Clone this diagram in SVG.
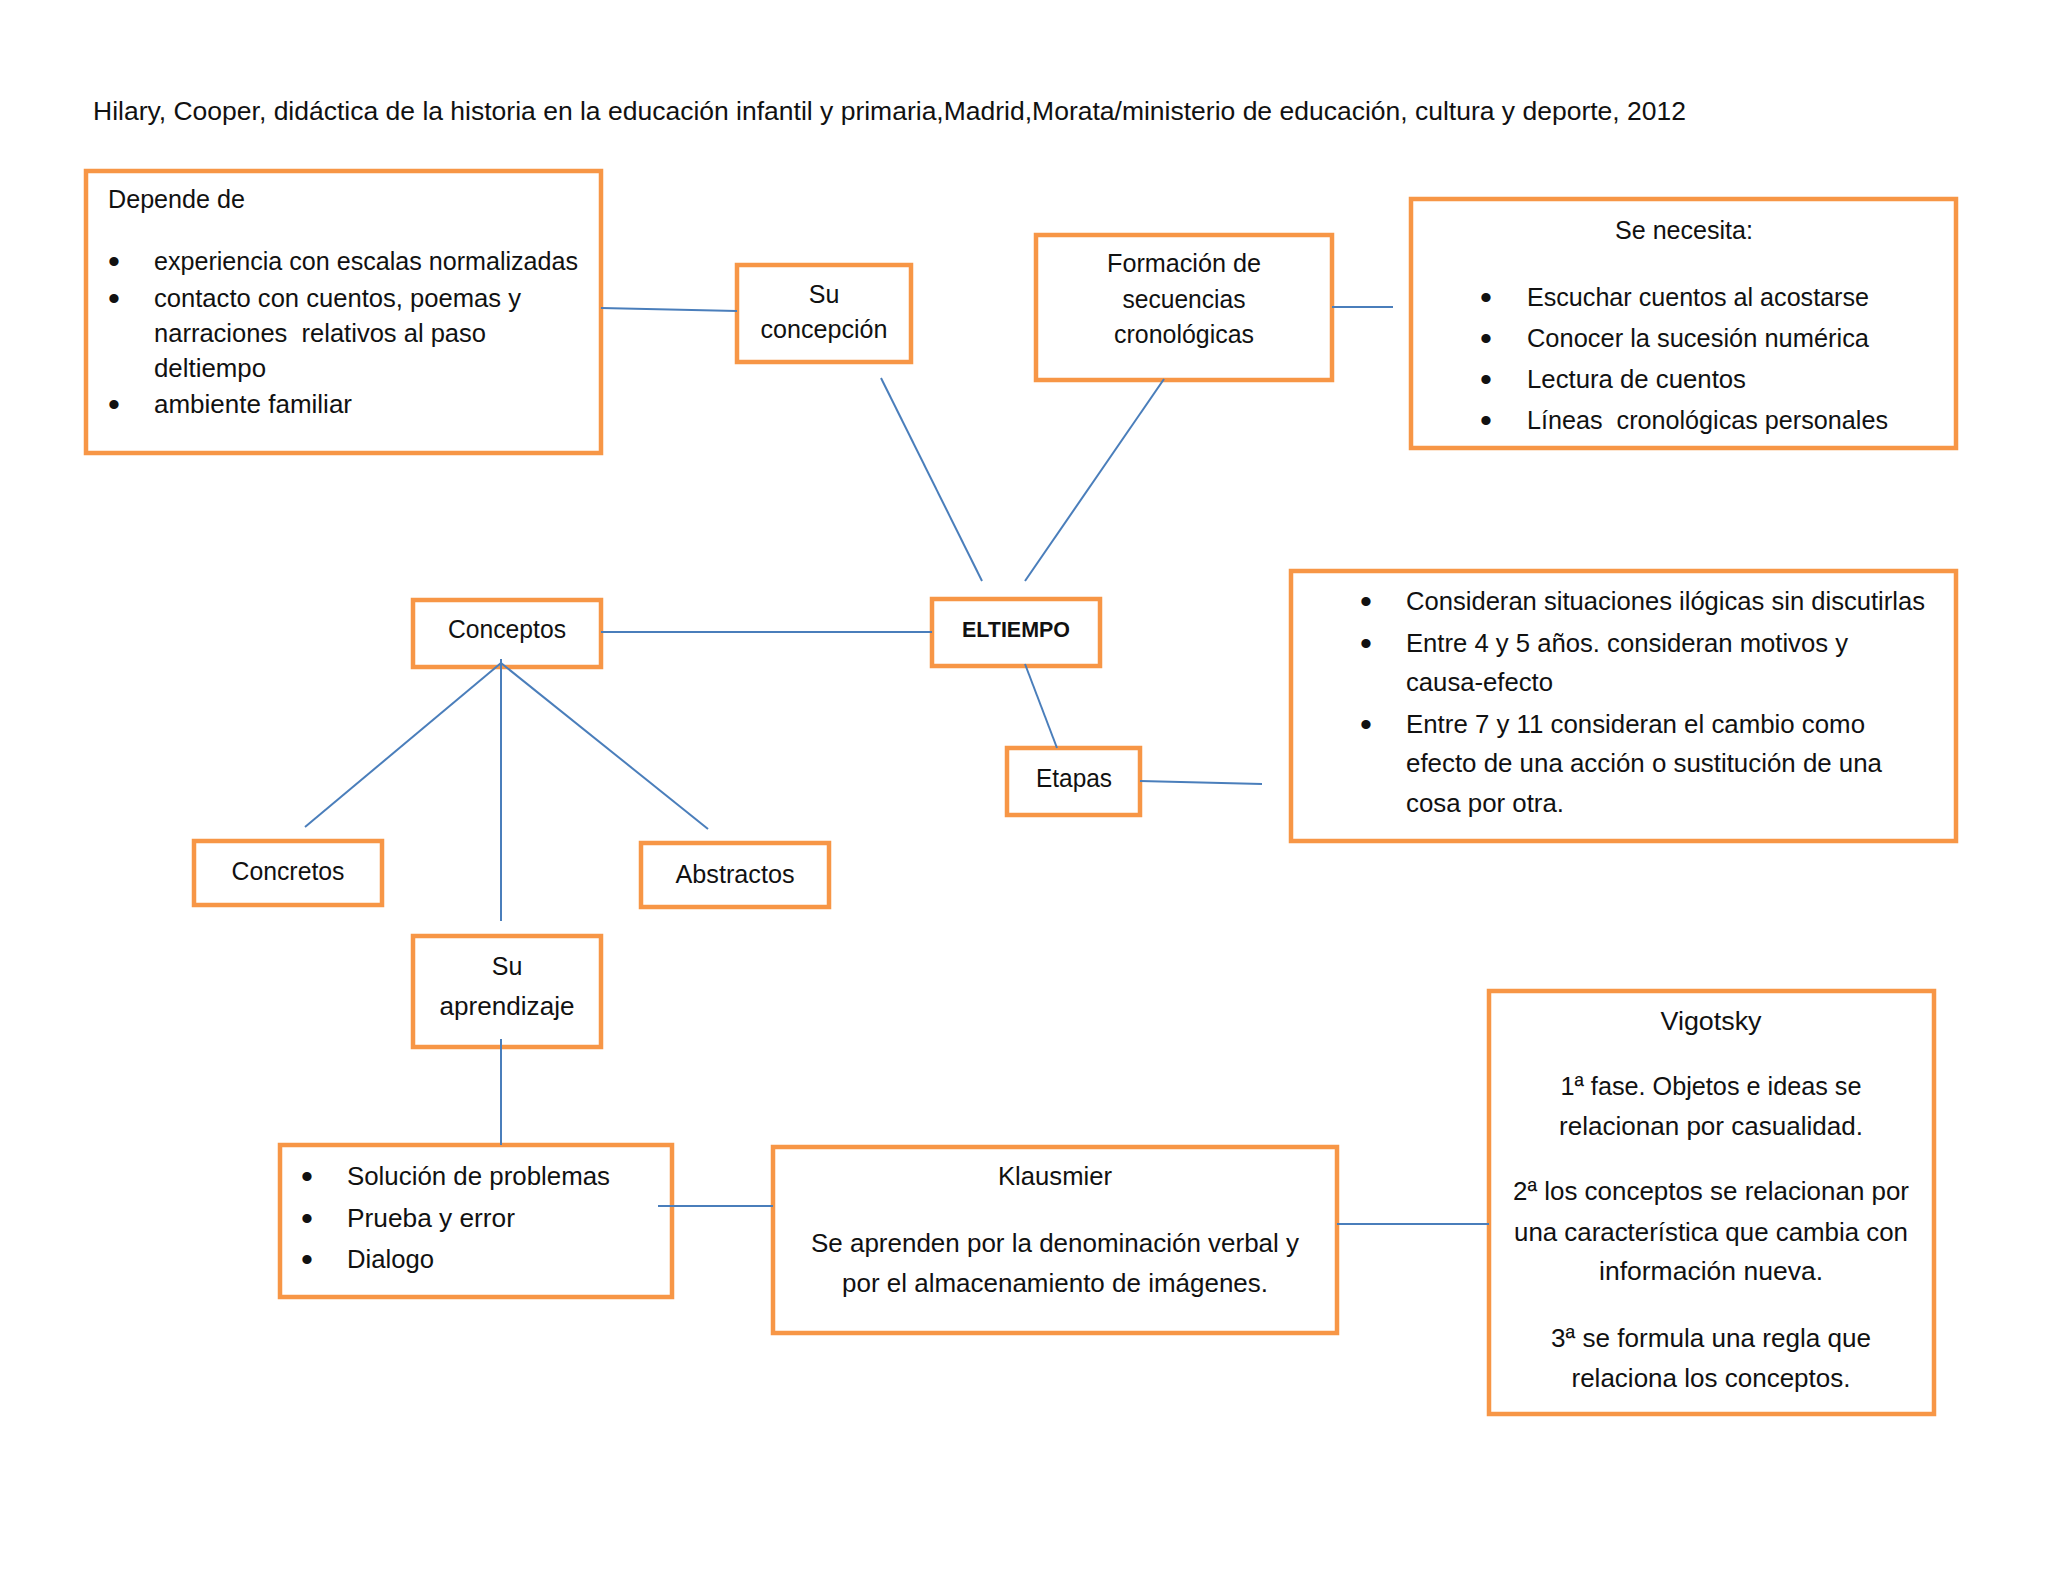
<svg xmlns="http://www.w3.org/2000/svg" width="2048" height="1582" viewBox="0 0 2048 1582">
<style>
.box{fill:#fff;stroke:#F79646;stroke-width:4.5}
.t{font-family:"Liberation Sans",Arial,sans-serif;font-size:25px;fill:#111}
.c{text-anchor:middle}
.b{font-weight:bold;font-size:22px}
.bu{font-family:"Liberation Sans",Arial,sans-serif;font-size:34px;fill:#111}
.edge{stroke:#4A7EBB;stroke-width:2;fill:none}
</style>
<rect width="2048" height="1582" fill="#fff"/>
<text class="t" x="93" y="120" textLength="1593" lengthAdjust="spacingAndGlyphs">Hilary, Cooper, didáctica de la historia en la educación infantil y primaria,Madrid,Morata/ministerio de educación, cultura y deporte, 2012</text>
<g id="depende">
<rect class="box" x="86" y="171" width="515" height="282"/>
<text class="t" x="108" y="208" textLength="137" lengthAdjust="spacingAndGlyphs">Depende de</text>
<text class="bu" x="108" y="273">•</text>
<text class="bu" x="108" y="310">•</text>
<text class="bu" x="108" y="416">•</text>
<text class="t" x="154" y="270" textLength="424" lengthAdjust="spacingAndGlyphs">experiencia con escalas normalizadas</text>
<text class="t" x="154" y="307" textLength="367" lengthAdjust="spacingAndGlyphs">contacto con cuentos, poemas y</text>
<text class="t" x="154" y="342" textLength="332" lengthAdjust="spacingAndGlyphs" xml:space="preserve">narraciones  relativos al paso</text>
<text class="t" x="154" y="377" textLength="112" lengthAdjust="spacingAndGlyphs">deltiempo</text>
<text class="t" x="154" y="413" textLength="198" lengthAdjust="spacingAndGlyphs">ambiente familiar</text>
</g>
<g id="su-concepcion">
<rect class="box" x="737" y="265" width="174" height="97"/>
<text class="t c" x="824" y="303">Su</text>
<text class="t c" x="824" y="338" textLength="127" lengthAdjust="spacingAndGlyphs">concepción</text>
</g>
<g id="formacion">
<rect class="box" x="1036" y="235" width="296" height="145"/>
<text class="t c" x="1184" y="272" textLength="154" lengthAdjust="spacingAndGlyphs">Formación de</text>
<text class="t c" x="1184" y="308" textLength="123" lengthAdjust="spacingAndGlyphs">secuencias</text>
<text class="t c" x="1184" y="343" textLength="140" lengthAdjust="spacingAndGlyphs">cronológicas</text>
</g>
<g id="se-necesita">
<rect class="box" x="1411" y="199" width="545" height="249"/>
<text class="t c" x="1684" y="239" textLength="138" lengthAdjust="spacingAndGlyphs">Se necesita:</text>
<text class="bu" x="1480" y="309">•</text>
<text class="bu" x="1480" y="350">•</text>
<text class="bu" x="1480" y="391">•</text>
<text class="bu" x="1480" y="432">•</text>
<text class="t" x="1527" y="306" textLength="342" lengthAdjust="spacingAndGlyphs">Escuchar cuentos al acostarse</text>
<text class="t" x="1527" y="347" textLength="342" lengthAdjust="spacingAndGlyphs">Conocer la sucesión numérica</text>
<text class="t" x="1527" y="388" textLength="219" lengthAdjust="spacingAndGlyphs">Lectura de cuentos</text>
<text class="t" x="1527" y="429" textLength="361" lengthAdjust="spacingAndGlyphs" xml:space="preserve">Líneas  cronológicas personales</text>
</g>
<g id="eltiempo">
<rect class="box" x="932" y="599" width="168" height="67"/>
<text class="t c b" x="1016" y="637" textLength="108" lengthAdjust="spacingAndGlyphs">ELTIEMPO</text>
</g>
<g id="conceptos">
<rect class="box" x="413" y="600" width="188" height="67"/>
<text class="t c" x="507" y="638" textLength="118" lengthAdjust="spacingAndGlyphs">Conceptos</text>
</g>
<g id="etapas">
<rect class="box" x="1007" y="748" width="133" height="67"/>
<text class="t c" x="1074" y="787" textLength="76" lengthAdjust="spacingAndGlyphs">Etapas</text>
</g>
<g id="consideran">
<rect class="box" x="1291" y="571" width="665" height="270"/>
<text class="bu" x="1360" y="613">•</text>
<text class="bu" x="1360" y="655">•</text>
<text class="bu" x="1360" y="736">•</text>
<text class="t" x="1406" y="610" textLength="519" lengthAdjust="spacingAndGlyphs">Consideran situaciones ilógicas sin discutirlas</text>
<text class="t" x="1406" y="652" textLength="442" lengthAdjust="spacingAndGlyphs">Entre 4 y 5 años. consideran motivos y</text>
<text class="t" x="1406" y="691" textLength="147" lengthAdjust="spacingAndGlyphs">causa-efecto</text>
<text class="t" x="1406" y="733" textLength="459" lengthAdjust="spacingAndGlyphs">Entre 7 y 11 consideran el cambio como</text>
<text class="t" x="1406" y="772" textLength="476" lengthAdjust="spacingAndGlyphs">efecto de una acción o sustitución de una</text>
<text class="t" x="1406" y="812" textLength="158" lengthAdjust="spacingAndGlyphs">cosa por otra.</text>
</g>
<g id="concretos">
<rect class="box" x="194" y="841" width="188" height="64"/>
<text class="t c" x="288" y="880" textLength="113" lengthAdjust="spacingAndGlyphs">Concretos</text>
</g>
<g id="abstractos">
<rect class="box" x="641" y="843" width="188" height="64"/>
<text class="t c" x="735" y="883" textLength="119" lengthAdjust="spacingAndGlyphs">Abstractos</text>
</g>
<g id="su-aprendizaje">
<rect class="box" x="413" y="936" width="188" height="111"/>
<text class="t c" x="507" y="975">Su</text>
<text class="t c" x="507" y="1015" textLength="135" lengthAdjust="spacingAndGlyphs">aprendizaje</text>
</g>
<g id="solucion">
<rect class="box" x="280" y="1145" width="392" height="152"/>
<text class="bu" x="301" y="1188">•</text>
<text class="bu" x="301" y="1230">•</text>
<text class="bu" x="301" y="1271">•</text>
<text class="t" x="347" y="1185" textLength="263" lengthAdjust="spacingAndGlyphs">Solución de problemas</text>
<text class="t" x="347" y="1227" textLength="168" lengthAdjust="spacingAndGlyphs">Prueba y error</text>
<text class="t" x="347" y="1268" textLength="87" lengthAdjust="spacingAndGlyphs">Dialogo</text>
</g>
<g id="klausmier">
<rect class="box" x="773" y="1147" width="564" height="186"/>
<text class="t c" x="1055" y="1185" textLength="114" lengthAdjust="spacingAndGlyphs">Klausmier</text>
<text class="t c" x="1055" y="1252" textLength="488" lengthAdjust="spacingAndGlyphs">Se aprenden por la denominación verbal y</text>
<text class="t c" x="1055" y="1292" textLength="426" lengthAdjust="spacingAndGlyphs">por el almacenamiento de imágenes.</text>
</g>
<g id="vigotsky">
<rect class="box" x="1489" y="991" width="445" height="423"/>
<text class="t c" x="1711" y="1030" textLength="101" lengthAdjust="spacingAndGlyphs">Vigotsky</text>
<text class="t c" x="1711" y="1095" textLength="301" lengthAdjust="spacingAndGlyphs">1ª fase. Objetos e ideas se</text>
<text class="t c" x="1711" y="1135" textLength="304" lengthAdjust="spacingAndGlyphs">relacionan por casualidad.</text>
<text class="t c" x="1711" y="1200" textLength="396" lengthAdjust="spacingAndGlyphs">2ª los conceptos se relacionan por</text>
<text class="t c" x="1711" y="1241" textLength="394" lengthAdjust="spacingAndGlyphs">una característica que cambia con</text>
<text class="t c" x="1711" y="1280" textLength="224" lengthAdjust="spacingAndGlyphs">información nueva.</text>
<text class="t c" x="1711" y="1347" textLength="320" lengthAdjust="spacingAndGlyphs">3ª se formula una regla que</text>
<text class="t c" x="1711" y="1387" textLength="279" lengthAdjust="spacingAndGlyphs">relaciona los conceptos.</text>
</g>
<g id="edges">
<line class="edge" x1="601" y1="308" x2="737" y2="311"/>
<line class="edge" x1="881" y1="378" x2="982" y2="581"/>
<line class="edge" x1="1164" y1="379" x2="1025" y2="581"/>
<line class="edge" x1="1332" y1="307" x2="1393" y2="307"/>
<line class="edge" x1="601" y1="632" x2="932" y2="632"/>
<line class="edge" x1="1025" y1="664" x2="1057" y2="748"/>
<line class="edge" x1="1140" y1="781" x2="1262" y2="784"/>
<line class="edge" x1="501" y1="663" x2="305" y2="827"/>
<line class="edge" x1="501" y1="663" x2="708" y2="829"/>
<line class="edge" x1="501" y1="659" x2="501" y2="921"/>
<line class="edge" x1="501" y1="1039" x2="501" y2="1145"/>
<line class="edge" x1="658" y1="1206" x2="773" y2="1206"/>
<line class="edge" x1="1337" y1="1224" x2="1489" y2="1224"/>
</g>
</svg>
